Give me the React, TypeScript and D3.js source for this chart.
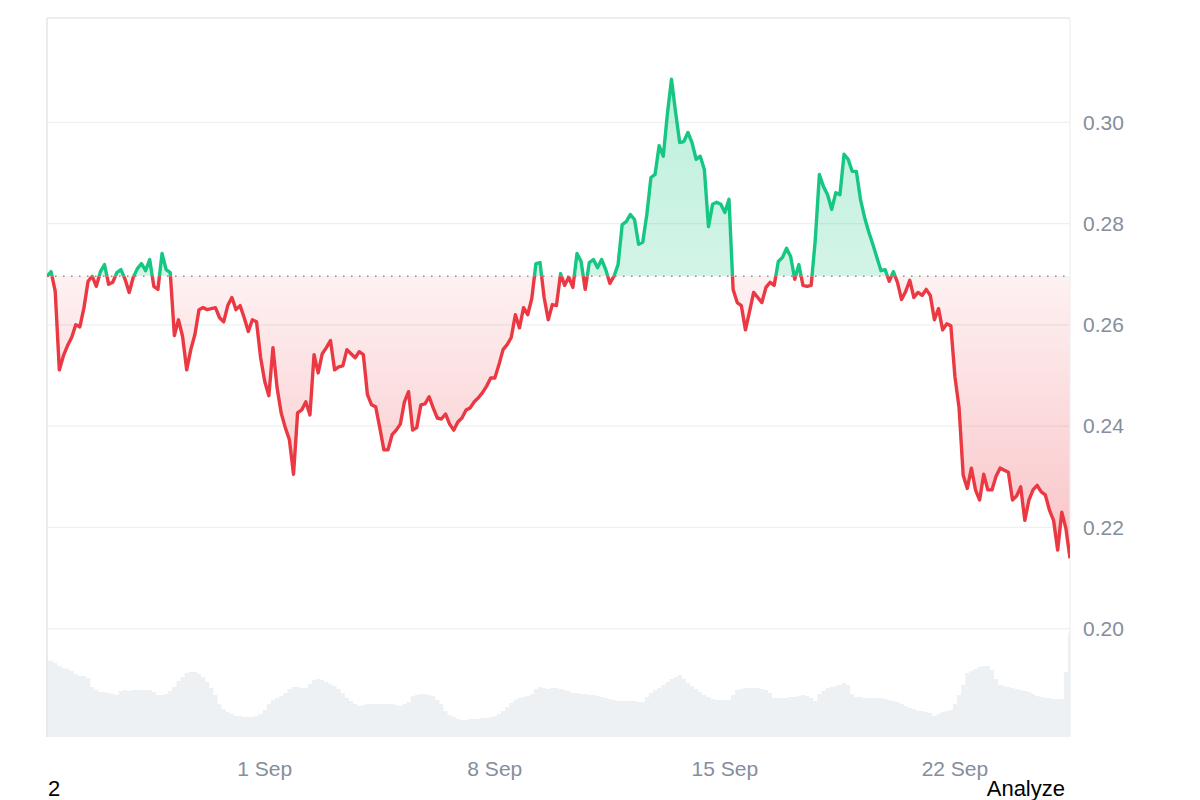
import React from 'react';
import * as d3 from 'd3';

// 3-hourly samples, 25 Aug 09:00 UTC -> 25 Sep 12:00 UTC
const startTime = Date.UTC(2024, 7, 25, 9);
const stepHours = 3;

const prices = [
  0.2696, 0.2705, 0.2666, 0.2511, 0.2539, 0.2559, 0.2575, 0.2600, 0.2596, 0.2634,
  0.2686, 0.2696, 0.2676, 0.2705, 0.2719, 0.2680, 0.2684, 0.2703, 0.2709, 0.2690,
  0.2664, 0.2694, 0.2711, 0.2721, 0.2707, 0.2729, 0.2676, 0.2670, 0.2741, 0.2709,
  0.2703, 0.2579, 0.2610, 0.2577, 0.2511, 0.2551, 0.2581, 0.2630, 0.2634, 0.2630,
  0.2632, 0.2634, 0.2614, 0.2606, 0.2638, 0.2654, 0.2630, 0.2638, 0.2614, 0.2587,
  0.2610, 0.2606, 0.2535, 0.2488, 0.2460, 0.2555, 0.2476, 0.2426, 0.2397, 0.2373,
  0.2305, 0.2426, 0.2432, 0.2448, 0.2422, 0.2541, 0.2505, 0.2543, 0.2555, 0.2569,
  0.2511, 0.2517, 0.2519, 0.2551, 0.2543, 0.2535, 0.2547, 0.2541, 0.2462, 0.2442,
  0.2438, 0.2397, 0.2353, 0.2353, 0.2383, 0.2392, 0.2404, 0.2448, 0.2468, 0.2392,
  0.2397, 0.2442, 0.2444, 0.2458, 0.2436, 0.2416, 0.2414, 0.2424, 0.2404, 0.2392,
  0.2408, 0.2416, 0.2432, 0.2436, 0.2448, 0.2456, 0.2466, 0.2479, 0.2495, 0.2495,
  0.2521, 0.2551, 0.2561, 0.2575, 0.2620, 0.2594, 0.2634, 0.2620, 0.2652, 0.2721,
  0.2723, 0.2654, 0.2610, 0.2640, 0.2638, 0.2701, 0.2678, 0.2694, 0.2674, 0.2741,
  0.2725, 0.2670, 0.2723, 0.2729, 0.2713, 0.2729, 0.2709, 0.2682, 0.2696, 0.2719,
  0.2798, 0.2804, 0.2818, 0.2808, 0.2759, 0.2763, 0.2818, 0.2891, 0.2897, 0.2954,
  0.2933, 0.3016, 0.3085, 0.3020, 0.2960, 0.2962, 0.2980, 0.2960, 0.2927, 0.2933,
  0.2907, 0.2794, 0.2838, 0.2842, 0.2838, 0.2822, 0.2848, 0.2670, 0.2644, 0.2638,
  0.2590, 0.2626, 0.2664, 0.2654, 0.2644, 0.2674, 0.2684, 0.2678, 0.2725, 0.2733,
  0.2751, 0.2735, 0.2690, 0.2719, 0.2678, 0.2676, 0.2678, 0.2768, 0.2897, 0.2873,
  0.2857, 0.2828, 0.2861, 0.2857, 0.2937, 0.2927, 0.2903, 0.2903, 0.2848, 0.2812,
  0.2784, 0.2759, 0.2733, 0.2707, 0.2709, 0.2686, 0.2705, 0.2684, 0.2650, 0.2666,
  0.2688, 0.2654, 0.2664, 0.2658, 0.2670, 0.2658, 0.2610, 0.2632, 0.2590, 0.2602,
  0.2598, 0.2497, 0.2436, 0.2303, 0.2277, 0.2317, 0.2274, 0.2254, 0.2305, 0.2274,
  0.2274, 0.2301, 0.2317, 0.2313, 0.2309, 0.2254, 0.2262, 0.2280, 0.2214, 0.2254,
  0.2274, 0.2283, 0.2270, 0.2264, 0.2234, 0.2214, 0.2155, 0.2230, 0.2198, 0.2139,
];

// volume, millions
const volumes = [
  77, 76, 74, 71, 69, 68, 66, 63, 61, 61,
  59, 50, 47, 45, 45, 44, 43, 42, 46, 47,
  46, 47, 47, 47, 47, 47, 45, 42, 42, 43,
  46, 50, 56, 60, 64, 65, 65, 63, 60, 55,
  49, 42, 33, 28, 25, 23, 21, 21, 20, 20,
  20, 21, 23, 27, 33, 37, 39, 41, 44, 48,
  50, 50, 49, 49, 53, 57, 58, 57, 55, 53,
  51, 48, 44, 39, 36, 33, 31, 32, 33, 33,
  33, 33, 33, 33, 33, 32, 31, 33, 35, 41,
  42, 43, 43, 42, 41, 37, 33, 26, 22, 20,
  18, 17, 17, 18, 18, 18, 19, 19, 20, 21,
  23, 26, 30, 34, 37, 39, 40, 41, 43, 48,
  50, 49, 48, 49, 49, 48, 47, 46, 44, 44,
  43, 43, 42, 42, 41, 40, 39, 38, 37, 36,
  36, 36, 36, 36, 35, 35, 40, 44, 47, 49,
  52, 55, 58, 60, 62, 58, 54, 51, 48, 45,
  42, 40, 38, 37, 37, 37, 37, 42, 47, 48,
  49, 49, 49, 49, 48, 47, 44, 39, 39, 39,
  39, 40, 40, 41, 42, 41, 39, 36, 43, 46,
  49, 50, 51, 52, 54, 52, 43, 40, 40, 39,
  39, 39, 39, 39, 38, 37, 36, 35, 33, 31,
  29, 28, 26, 26, 25, 24, 21, 23, 25, 26,
  27, 33, 42, 52, 64, 66, 68, 70, 71, 71,
  67, 58, 52, 51, 50, 49, 48, 47, 46, 45,
  43, 41, 40, 39, 39, 38, 38, 38, 65, 104,
];

const priceTicks = [0.2, 0.22, 0.24, 0.26, 0.28, 0.3];
const dateTicks = [Date.UTC(2024, 8, 1), Date.UTC(2024, 8, 8), Date.UTC(2024, 8, 15), Date.UTC(2024, 8, 22)];
const dateLabels = ['1 Sep', '8 Sep', '15 Sep', '22 Sep'];

const GREEN = '#16c784';
const RED = '#ea3943';
const FONT = '"Liberation Sans", Arial, sans-serif';

const App = () => {
  const left = 47, right = 1070, top = 18, bottom = 737;
  const times = prices.map((_, i) => new Date(startTime + i * stepHours * 3600e3));

  const x = d3.scaleUtc().domain([times[0], times[times.length - 1]]).range([left, right]);
  const y = d3.scaleLinear().domain([0.1786, 0.3206]).range([bottom, top]);
  const yVol = d3.scaleLinear().domain([0, 100]).range([bottom, bottom - 100]);

  const baseY = y(prices[0]);

  const line = d3.line<number>().x((_, i) => x(times[i])).y(d => y(d));
  const area = d3.area<number>().x((_, i) => x(times[i])).y0(baseY).y1(d => y(d));
  const volArea = d3.area<number>()
    .x((_, i) => x(times[i]))
    .y0(bottom)
    .y1(d => yVol(d))
    .curve(d3.curveStep);

  const linePath = line(prices) || '';
  const areaPath = area(prices) || '';

  return (
    <svg width={1200} height={800} style={{ position: 'absolute', left: 0, top: 0, background: '#fff' }}>
      <defs>
        <clipPath id="plot">
          <rect x={left} y={top} width={right - left} height={bottom - top} />
        </clipPath>
        <clipPath id="above">
          <rect x={left} y={top} width={right - left} height={baseY - top} />
        </clipPath>
        <clipPath id="below">
          <rect x={left} y={baseY} width={right - left} height={bottom - baseY} />
        </clipPath>
        <linearGradient id="gGreen" gradientUnits="userSpaceOnUse" x1={0} x2={0} y1={y(0.3085)} y2={baseY}>
          <stop offset="0%" stopColor={GREEN} stopOpacity={0.28} />
          <stop offset="100%" stopColor={GREEN} stopOpacity={0.19} />
        </linearGradient>
        <linearGradient id="gRed" gradientUnits="userSpaceOnUse" x1={0} x2={0} y1={baseY} y2={y(0.2139)}>
          <stop offset="0%" stopColor={RED} stopOpacity={0.07} />
          <stop offset="100%" stopColor={RED} stopOpacity={0.3} />
        </linearGradient>
      </defs>

      {/* grid */}
      {priceTicks.map(t => (
        <line key={t} x1={left} x2={right} y1={y(t)} y2={y(t)} stroke="#eeeff1" strokeWidth={1.2} />
      ))}

      {/* volume */}
      <path d={volArea(volumes) || ''} fill="#eef1f4" clipPath="url(#plot)" />

      {/* areas */}
      <path d={areaPath} fill="url(#gGreen)" clipPath="url(#above)" />
      <path d={areaPath} fill="url(#gRed)" clipPath="url(#below)" />

      {/* frame */}
      <line x1={left} x2={right} y1={top} y2={top} stroke="#e6e7ea" strokeWidth={1.6} />
      <line x1={left} x2={left} y1={top} y2={bottom} stroke="#e6e7ea" strokeWidth={1.6} />
      <line x1={right} x2={right} y1={top} y2={bottom} stroke="#eeeff1" strokeWidth={1.2} />

      {/* base line */}
      <line x1={left} x2={right} y1={baseY} y2={baseY} stroke="#8d8d8d" strokeWidth={1.4} strokeDasharray="1.5 6.5" />

      {/* price line */}
      <path d={linePath} fill="none" stroke={GREEN} strokeWidth={3.4} strokeLinejoin="round" clipPath="url(#above)" />
      <path d={linePath} fill="none" stroke={RED} strokeWidth={3.4} strokeLinejoin="round" clipPath="url(#below)" />

      {/* y axis labels */}
      {priceTicks.map(t => (
        <text key={t} x={1083} y={y(t)} dy="0.35em" fill="#858e9c" fontSize={21} fontFamily={FONT}>
          {t.toFixed(2)}
        </text>
      ))}

      {/* x axis labels */}
      {dateTicks.map((t, i) => (
        <text key={t} x={x(new Date(t))} y={776} textAnchor="middle" fill="#858e9c" fontSize={21} fontFamily={FONT}>
          {dateLabels[i]}
        </text>
      ))}

      <text x={48} y={796} fill="#000" fontSize={22} fontFamily={FONT}>2</text>
      <text x={1065} y={796} textAnchor="end" fill="#000" fontSize={22} fontFamily={FONT}>Analyze</text>
    </svg>
  );
};

export default App;
